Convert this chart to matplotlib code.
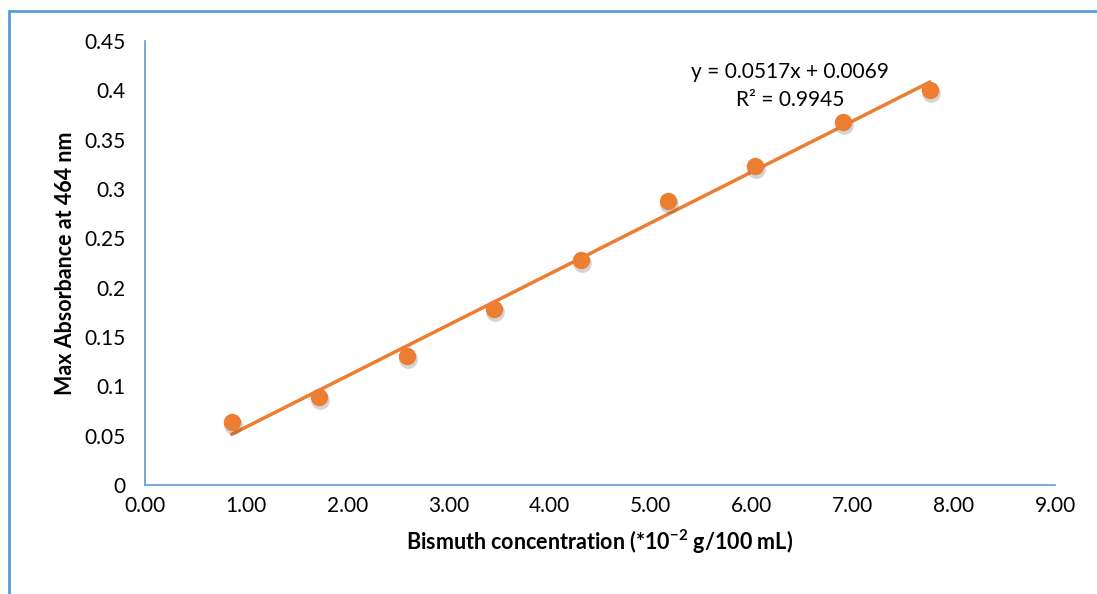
import numpy as np
import matplotlib.pyplot as plt
from matplotlib.patches import Rectangle

# datos
conc = [0.86, 1.72, 2.59, 3.45, 4.31, 5.17, 6.03, 6.90, 7.76]
absorb = [0.064, 0.089, 0.131, 0.178, 0.228, 0.288, 0.323, 0.368, 0.400]
xticks = [0, 1, 2, 3, 4, 5, 6, 7, 8, 9]
yticks = [0, 0.05, 0.1, 0.15, 0.2, 0.25, 0.3, 0.35, 0.4, 0.45]
ytick_labels = ['0', '0.05', '0.1', '0.15', '0.2', '0.25', '0.3', '0.35', '0.4', '0.45']
eq_text = 'y = 0.0517x + 0.0069'
r2_text = 'R² = 0.9945'

naranja = '#ED7D31'
azul = '#5B9BD5'

plt.rcParams['font.family'] = ['Lato', 'DejaVu Sans']
plt.rcParams['mathtext.fontset'] = 'custom'
plt.rcParams['mathtext.rm'] = 'Lato'
plt.rcParams['mathtext.bf'] = 'Lato:bold'

fig = plt.figure(figsize=(10.97, 5.94), dpi=100)
ax = fig.add_axes([145/1097, 109/594, 910/1097, 444/594])

# marco de la figura
fig.patches.append(Rectangle((9/1097, -0.1), 1.2, (594-11)/594 + 0.1,
                             transform=fig.transFigure, fill=False,
                             edgecolor=azul, linewidth=2.0))

# recta de ajuste
m, b = np.polyfit(conc, absorb, 1)
xl = np.array([conc[0], conc[-1]])
ax.plot(xl, m*xl + b, color=naranja, linewidth=2.5, zorder=2)

# sombra suave y puntos
ax.plot(np.array(conc) + 0.015, np.array(absorb) - 0.003, 'o', color='#555555',
        alpha=0.25, markersize=13.5, markeredgewidth=0, zorder=2.5)
ax.plot(conc, absorb, 'o', color=naranja, markersize=12.5, markeredgewidth=0, zorder=3)

ax.set_xlim(0, 9)
ax.set_ylim(0, 0.45)
ax.set_xticks(xticks)
ax.set_xticklabels(['%.2f' % v for v in xticks])
ax.set_yticks(yticks)
ax.set_yticklabels(ytick_labels)
ax.tick_params(length=0, labelsize=15, pad=8)
ax.tick_params(axis='y', pad=14)

for s in ['top', 'right']:
    ax.spines[s].set_visible(False)
for s in ['left', 'bottom']:
    ax.spines[s].set_color(azul)
    ax.spines[s].set_linewidth(1.2)

ax.set_xlabel('Bismuth concentration (*10$^{\\mathbf{-2}}$ g/100 mL)', fontsize=15.5,
              fontweight='bold', labelpad=8)
ax.set_ylabel('Max Absorbance at 464 nm', fontsize=15.5, fontweight='bold', labelpad=6)

ax.text(6.38, 0.419, eq_text, fontsize=15, ha='center', va='center')
ax.text(6.38, 0.390, r2_text, fontsize=15, ha='center', va='center')

fig.savefig('out.png', dpi=100)
